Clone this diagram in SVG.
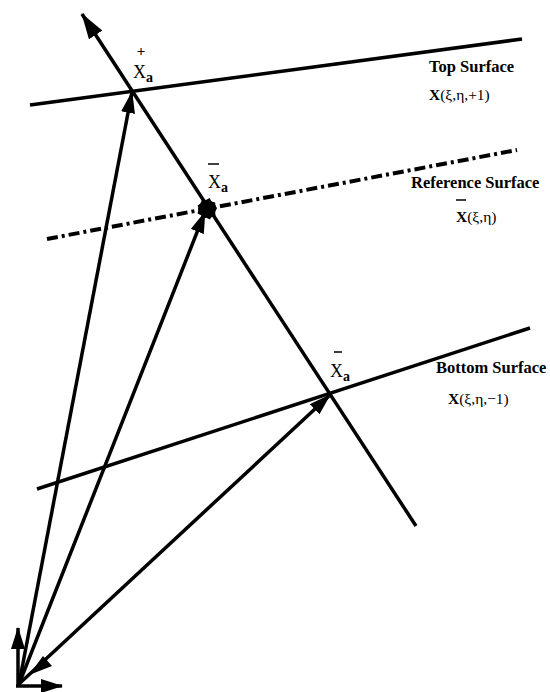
<svg xmlns="http://www.w3.org/2000/svg" width="550" height="692" viewBox="0 0 550 692">
<style>
.ln{stroke:#000;stroke-width:3.5;fill:none;stroke-linecap:butt}
.dd{stroke:#000;stroke-width:4;fill:none;stroke-dasharray:11 4 3 4}
.vec{stroke:#000;stroke-width:3.5;fill:none}
.t{font-family:"Liberation Serif","Times New Roman",serif;fill:#000}
.b{font-weight:bold}
.bar{stroke:#000;stroke-width:1.5}
</style>
<defs>
<marker id="ah" viewBox="0 0 22 14" refX="21" refY="7" markerWidth="22" markerHeight="14" markerUnits="userSpaceOnUse" orient="auto">
<path d="M0,0 L22,7 L0,14 Z" fill="#000"/>
</marker>
<marker id="ahs" viewBox="0 0 26 16" refX="25" refY="8" markerWidth="26" markerHeight="16" markerUnits="userSpaceOnUse" orient="auto">
<path d="M0,0 L26,8 L0,16 Z" fill="#000"/>
</marker>
</defs>
<rect width="550" height="692" fill="#fff"/>

<g id="surfaces">
<line id="top-surface" class="ln" x1="30" y1="105" x2="522" y2="39"/>
<line id="reference-surface" class="dd" x1="47" y1="239" x2="517" y2="150"/>
<line id="bottom-surface" class="ln" x1="37" y1="489" x2="530" y2="328"/>
</g>

<g id="connectors">
<line id="normal" class="ln" x1="416" y1="526" x2="82" y2="14" marker-end="url(#ahs)"/>
<line id="vec-top" class="vec" x1="19" y1="684" x2="132" y2="92" marker-end="url(#ah)"/>
<line id="vec-ref" class="vec" x1="19" y1="684" x2="205" y2="212" marker-end="url(#ah)"/>
<line id="vec-bottom" class="vec" x1="19" y1="684" x2="330" y2="395" marker-end="url(#ah)"/>
<polygon id="vec-bottom-head2" points="29,675 43,656 52,666" fill="#000"/>
<line id="axis-up" class="vec" x1="18" y1="687" x2="18" y2="628" marker-end="url(#ah)"/>
<line id="axis-right" class="vec" x1="16" y1="686" x2="62" y2="686" marker-end="url(#ah)"/>
</g>

<g id="ref-point">
<polygon points="217,208 215.2,212 215.5,215.8 211.8,216.8 209.8,219.5 206.5,217.8 202.5,218.8 201.2,215.2 197.5,213.5 198.8,209.5 197.6,205.6 200.8,203.4 202,199.5 206,200 209.6,198 211.4,201.6 215.2,202.6 215.3,205.8" fill="#000"/>
<circle cx="207" cy="208.5" r="8.5" fill="#000"/>
</g>

<g id="label-xa-top">
<text class="t b" x="141" y="56" font-size="15" text-anchor="middle">+</text>
<text class="t" x="133" y="78" font-size="18">X<tspan class="b" font-size="14" dy="4">a</tspan></text>
</g>
<g id="label-xa-ref">
<line class="bar" x1="208" y1="164" x2="219" y2="164"/>
<text class="t" x="208" y="188" font-size="18">X<tspan class="b" font-size="14" dy="4">a</tspan></text>
</g>
<g id="label-xa-bottom">
<line class="bar" x1="334" y1="352" x2="342" y2="352"/>
<text class="t" x="330" y="377" font-size="18">X<tspan class="b" font-size="14" dy="4">a</tspan></text>
</g>

<g id="label-top-surface">
<text class="t b" x="429" y="72" font-size="16.5">Top Surface</text>
<text class="t" x="429" y="100" font-size="15.5"><tspan class="b">X</tspan>(ξ,η,+1)</text>
</g>
<g id="label-reference-surface">
<text class="t b" x="411" y="188" font-size="16.5">Reference Surface</text>
<line class="bar" x1="456" y1="200" x2="466" y2="200"/>
<text class="t" x="456" y="222" font-size="15.5"><tspan class="b">X</tspan>(ξ,η)</text>
</g>
<g id="label-bottom-surface">
<text class="t b" x="436" y="373" font-size="16.5">Bottom Surface</text>
<text class="t" x="448" y="404" font-size="15.5"><tspan class="b">X</tspan>(ξ,η,−1)</text>
</g>
</svg>
